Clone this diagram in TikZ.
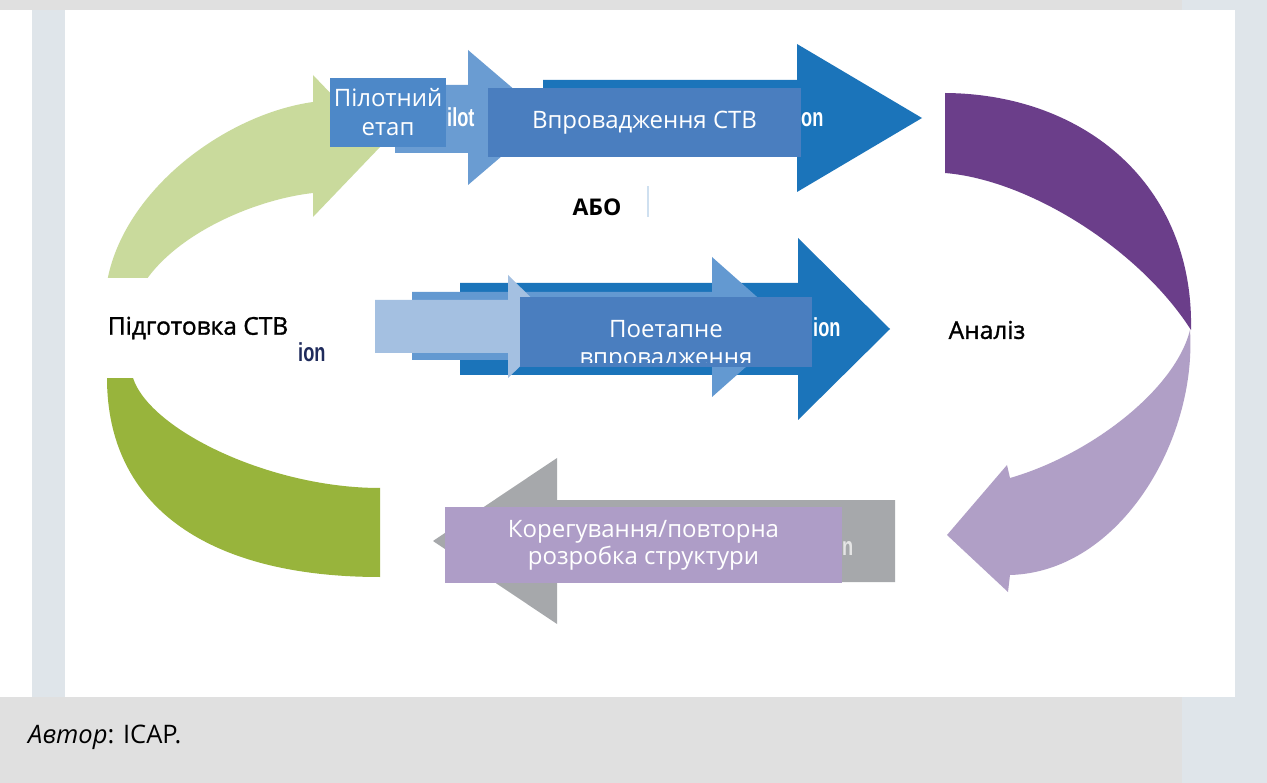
\documentclass[tikz,border=0pt]{standalone}
\usepackage{fontspec}
\usepackage{graphicx}
\setmainfont{Open Sans}
\newfontfamily\fragfam{Liberation Sans}
\newfontfamily\labelfam[FakeBold=1.2]{Open Sans}

\definecolor{panelside}{HTML}{DFE5EA}
\definecolor{panelgray}{HTML}{E0E0E0}
\definecolor{greenlight}{HTML}{C9DA9C}
\definecolor{greendark}{HTML}{98B43C}
\definecolor{bluepilot}{HTML}{6A9CD2}
\definecolor{bluemid}{HTML}{6399D1}
\definecolor{bluedark}{HTML}{1B74BA}
\definecolor{bluepale}{HTML}{A4C0E1}
\definecolor{boxblue}{HTML}{4A7EBF}
\definecolor{pilotboxblue}{HTML}{4D88C8}
\definecolor{purpledark}{HTML}{6B3E8A}
\definecolor{purplelight}{HTML}{B09FC6}
\definecolor{boxlavender}{HTML}{AE9DC7}
\definecolor{arrowgray}{HTML}{A6A8AB}
\definecolor{navytext}{HTML}{1F2B5C}
\definecolor{sliverblue}{HTML}{CFE0F0}

\tikzset{
  stagebox/.style={fill=boxblue, text=white, inner sep=0pt, align=center,
    font=\fontsize{24}{29}\selectfont},
  stagetext/.style={text=white, inner sep=0pt, anchor=base,
    font=\fontsize{24}{29}\selectfont},
  blacklabel/.style={text=black, inner sep=0pt, font=\labelfam\fontsize{24.5}{28}\selectfont},
  fragment/.style={inner sep=0pt, anchor=base west, text=white,
    font=\fragfam\bfseries\fontsize{26}{26}\selectfont},
}
\newcommand{\narrow}[1]{\scalebox{0.7}[1]{#1}}

\begin{document}
\begin{tikzpicture}[x=1pt,y=-1pt]
\useasboundingbox (0,0) rectangle (1267,783);

% page frame around the figure
\fill[white] (0,0) rectangle (1267,783);
\fill[panelgray] (0,0) rectangle (1182,10);
\fill[panelside] (1182,0) rectangle (1267,10);
\fill[panelside] (32,10) rectangle (65,697);
\fill[panelside] (1235,0) rectangle (1267,783);
\fill[panelgray] (0,697) rectangle (1182,783);
\fill[panelside] (1182,697) rectangle (1235,783);

% left ring: light green upper arrow
\fill[greenlight] (105,300) .. controls (110,200) and (220,115) .. (313,102)
  -- (313,75) -- (381,146) -- (313,217) -- (313,193)
  .. controls (250,200) and (160,240) .. (135,300) -- cycle;
% left ring: dark green lower arc
\fill[greendark] (107,350) -- (107,378) .. controls (107,508) and (210,577) .. (380,577)
  -- (380,488) .. controls (270,488) and (150,430) .. (133,378) -- (130,350) -- cycle;

% right ring: dark purple upper arc
\fill[purpledark] (945,93) .. controls (1085,94) and (1194,185) .. (1191,330)
  .. controls (1140,250) and (1030,180) .. (945,173) -- cycle;
% right ring: light purple lower arrow
\fill[purplelight] (1190,330) .. controls (1197,440) and (1120,572) .. (1010,575)
  -- (1008,592) -- (947,535) -- (1007,465) -- (1010,478)
  .. controls (1090,455) and (1175,390) .. (1190,330) -- cycle;

% top row: pilot arrow and implementation arrow
\fill[bluepilot] (395,85) -- (468,85) -- (468,50) -- (547,117.5) -- (468,185)
  -- (468,153) -- (395,153) -- cycle;
\fill[bluedark] (543,80) -- (797,80) -- (797,44) -- (922,118) -- (797,192)
  -- (797,155) -- (543,155) -- cycle;

% middle row: three stacked arrows
\fill[bluedark] (460,283) -- (798,283) -- (798,238) -- (890,329) -- (798,420)
  -- (798,375) -- (460,375) -- cycle;
\fill[bluemid] (412,292) -- (712,292) -- (712,257) -- (791,327) -- (712,397)
  -- (712,360) -- (412,360) -- cycle;
\fill[bluepale] (375,300) -- (508,300) -- (508,275) -- (561,327) -- (508,378)
  -- (508,353) -- (375,353) -- cycle;

% bottom row: grey return arrow
\fill[arrowgray] (895,500) -- (557,500) -- (557,458) -- (433,541) -- (557,624)
  -- (557,582) -- (895,582) -- cycle;

% leftover word endings printed on the arrows
\node[fragment] (fragilot) at (447,127) {\narrow{ilot}};
\node[fragment] (fragon) at (801,127) {\narrow{on}};
\node[fragment] (fragion) at (813,337) {\narrow{ion}};
\node[fragment, text=white!90!black] (fragn) at (842,555) {\narrow{n}};

% stage boxes
\node[stagebox, fill=pilotboxblue, minimum width=116pt, minimum height=69pt]
  (pilot) at (388,112.5) {Пілотний\\етап};
\node[stagebox, minimum width=313pt, minimum height=69pt]
  (impl) at (644.5,122.5) {Впровадження СТВ};
\node[stagebox, minimum width=292pt, minimum height=70pt]
  (phased) at (666,332) {};
\begin{scope}
  \clip (520,297) rectangle (812,363);
  \node[stagetext] (phasedA) at (666,338) {Поетапне};
  \node[stagetext] (phasedB) at (666,366) {впровадження};
\end{scope}
\node[stagebox, fill=boxlavender, minimum width=397pt, minimum height=76pt,
  font=\fontsize{24}{27}\selectfont]
  (revise) at (643.5,545) {Корегування/повторна\\розробка структури};

% plain labels
\node[blacklabel, fill=white, minimum width=205pt, minimum height=100pt]
  (prep) at (198,328) {Підготовка СТВ};
\node[fragment, text=navytext] (fragionleft) at (298,362) {\narrow{ion}};
\node[blacklabel, font=\bfseries\fontsize{23}{24}\selectfont] (or) at (597,207) {АБО};
\fill[sliverblue] (647,186) rectangle (649,217);
\node[blacklabel] (analysis) at (987,330) {Аналіз};

% source line
\node[anchor=base west, inner sep=0pt, font=\fontsize{25.5}{28}\selectfont]
  (author) at (28,743) {\textit{Автор}: ICAP.};
\end{tikzpicture}
\end{document}
